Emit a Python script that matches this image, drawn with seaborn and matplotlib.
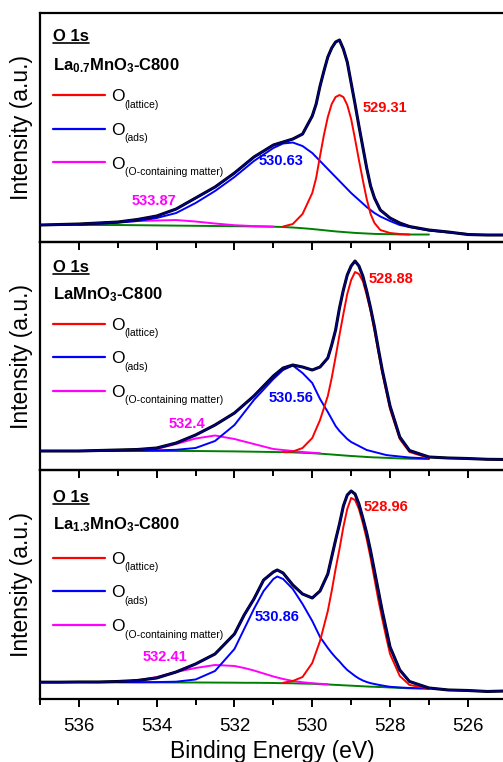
import numpy as np
import pandas as pd
import matplotlib
matplotlib.use("Agg")
import matplotlib.pyplot as plt
import seaborn as sns
from matplotlib.lines import Line2D
from matplotlib.ticker import MultipleLocator

nan = np.nan

# ---- panel 1: La0.7MnO3-C800 (binding energy in eV, intensity in a.u.) ----
e_p1 = [537.0, 536.5, 536.0, 535.5, 535.0, 534.5, 534.0, 533.5, 533.0, 532.5,
        532.0, 531.5, 531.0, 530.75, 530.5, 530.25, 530.0, 529.9, 529.8, 529.7,
        529.6, 529.5, 529.4, 529.3, 529.2, 529.1, 529.0, 528.9, 528.8, 528.7,
        528.6, 528.5, 528.4, 528.25, 528.0, 527.75, 527.5, 527.0, 526.5, 526.0,
        525.5, 525.0]
env_p1 = [17, 17.5, 18, 19, 20, 22.5, 26, 33, 44, 55,
          69, 85, 97, 100, 103, 108, 126, 138, 156, 171,
          185, 194, 200, 202, 193, 180, 159, 138, 116, 95,
          74, 56, 44, 32, 24, 19, 15.5, 12, 10, 7.5,
          7, 7]
bg_p1 = [17, 17, 17, 17, 17, 16.8, 16.6, 16.4, 16.2, 16,
         15.8, 15.6, 15.3, 15, 14.5, 13.8, 13, 12.6, 12.2, 11.8,
         11.4, 11, 10.6, 10.3, 10, 9.7, 9.4, 9.1, 8.9, 8.7,
         8.5, 8.3, 8.1, 8, 7.8, 7.6, 7.5, 7.5, nan, nan,
         nan, nan]
red_p1 = [nan, nan, nan, nan, nan, nan, nan, nan, nan, nan,
          nan, nan, nan, 15.5, 18, 28, 49, 64, 86, 107,
          125, 138, 145, 147, 145, 137, 123, 103, 82, 62,
          43, 28, 19, 12, 9, 8, 7.5, nan, nan, nan,
          nan, nan]
blue_p1 = [nan, nan, 17.3, 18.3, 19.3, 21, 24, 29, 39, 51,
           65, 81, 94, 98.5, 99.5, 96, 89, 85, 81, 77,
           73, 69, 65, 61, 57, 53, 49, 45.5, 42, 38.5,
           35, 32, 29, 25.5, 21, 17, 15, 11.5, 9.5, 8,
           nan, nan]
mag_p1 = [nan, 17.3, 17.8, 18.8, 20, 21, 21.5, 22, 20.5, 18.5,
          16.8, 15.9, 15.4, nan, nan, nan, nan, nan, nan, nan,
          nan, nan, nan, nan, nan, nan, nan, nan, nan, nan,
          nan, nan, nan, nan, nan, nan, nan, nan, nan, nan,
          nan, nan]

# ---- panel 2: LaMnO3-C800 ----
e_p2 = [537.0, 536.5, 536.0, 535.5, 535.0, 534.5, 534.0, 533.5, 533.0, 532.5,
        532.0, 531.5, 531.0, 530.75, 530.5, 530.25, 530.0, 529.8, 529.6, 529.5,
        529.4, 529.3, 529.2, 529.1, 529.0, 528.9, 528.8, 528.7, 528.6, 528.5,
        528.4, 528.3, 528.2, 528.1, 528.0, 527.75, 527.5, 527.0, 526.5, 526.0,
        525.5, 525.0]
env_p2 = [19, 19, 19, 19.5, 20, 20.5, 22, 27, 35, 45,
          57, 74, 94, 102, 105, 103, 100, 103, 112, 125,
          140, 162, 180, 195, 204, 209, 204, 194, 179, 162,
          143, 121, 100, 82, 64, 33, 19.5, 13, 12, 11.5,
          10.7, 10.5]
bg_p2 = [19, 19, 19, 19, 19, 19, 19, 19, 19, 18.8,
         18.6, 18.3, 18, 17.8, 17.6, 17.2, 16.8, 16.3, 15.8, 15.5,
         15.2, 14.9, 14.6, 14.3, 14, 13.8, 13.5, 13.3, 13, 12.8,
         12.6, 12.5, 12.3, 12.2, 12, 11.6, 11.3, 11, nan, nan,
         nan, nan]
red_p2 = [nan, nan, nan, nan, nan, nan, nan, nan, nan, nan,
          nan, nan, nan, 18, 18.5, 22, 32, 50, 74, 92,
          113, 135, 156, 176, 190, 198, 196, 189, 175, 159,
          139, 118, 97, 79, 61, 31, 18, 12, nan, nan,
          nan, nan]
blue_p2 = [nan, nan, 19.1, 19.2, 19.4, 19.5, 19.7, 20.2, 22, 29,
           45, 70, 91, 100, 104.5, 97, 87, 71, 58, 51,
           44, 39, 35, 31, 28, 26, 24, 22, 20, 19,
           18, 17, 16, 15, 14.5, 13.5, 12.5, 11.5, nan, nan,
           nan, nan]
mag_p2 = [nan, nan, nan, nan, 19.2, 19.6, 21, 26, 31.5, 34.5,
          31, 26, 21, 20, 19, 18, 17.3, 16.8, nan, nan,
          nan, nan, nan, nan, nan, nan, nan, nan, nan, nan,
          nan, nan, nan, nan, nan, nan, nan, nan, nan, nan,
          nan, nan]

# ---- panel 3: La1.3MnO3-C800 ----
e_p3 = [537.0, 536.5, 536.0, 535.5, 535.0, 534.5, 534.0, 533.5, 533.0, 532.5,
        532.0, 531.75, 531.5, 531.25, 531.0, 530.9, 530.75, 530.5, 530.25, 530.0,
        529.8, 529.6, 529.5, 529.4, 529.3, 529.2, 529.1, 529.0, 528.9, 528.8,
        528.7, 528.6, 528.5, 528.4, 528.3, 528.2, 528.1, 528.0, 527.75, 527.5,
        527.0, 526.5, 526.0, 525.5, 525.0]
env_p3 = [16.8, 16.8, 17, 17, 17.5, 18.5, 21, 27, 35, 45,
          65, 84, 100, 119, 127, 129, 126, 114, 105, 101,
          108, 125, 142, 159, 175, 193, 204, 208, 205, 195,
          181, 166, 148, 128, 108, 88, 70, 52, 29, 17.5,
          11, 9, 8.5, 7.5, 8]
bg_p3 = [16.8, 16.8, 16.8, 16.7, 16.7, 16.6, 16.6, 16.5, 16.5, 16.4,
         16.3, 16.2, 16.2, 16.1, 16, 15.9, 15.8, 15.7, 15.4, 15.2,
         14.8, 14.5, 14.3, 14.1, 13.9, 13.7, 13.5, 13.3, 13.1, 12.9,
         12.7, 12.5, 12.3, 12.2, 12, 11.9, 11.7, 11.5, 11.1, 10.7,
         10.3, nan, nan, nan, nan]
red_p3 = [nan, nan, nan, nan, nan, nan, nan, nan, nan, nan,
          nan, nan, nan, nan, nan, nan, 16.2, 18, 22, 36,
          58, 88, 108, 130, 150, 172, 190, 201, 199, 190,
          176, 160, 141, 120, 99, 80, 62, 45, 23, 14,
          10.5, nan, nan, nan, nan]
blue_p3 = [nan, nan, nan, nan, 16.8, 16.8, 16.9, 17.3, 19.5, 28,
           50, 70, 90, 108, 120, 122.5, 120, 110, 95, 78,
           62, 51, 46, 41.5, 37.5, 33, 29, 26, 23, 20.5,
           18.5, 17, 15.8, 15, 14.2, 13.5, 12.8, 12.2, 11.5, 11,
           10.5, nan, nan, nan, nan]
mag_p3 = [nan, nan, nan, nan, 17, 18.5, 22, 27, 31, 34,
          33, 31, 28.5, 25.5, 22.5, 21.5, 20, 18, 16.7, 15.8,
          15.2, 14.7, nan, nan, nan, nan, nan, nan, nan, nan,
          nan, nan, nan, nan, nan, nan, nan, nan, nan, nan,
          nan, nan, nan, nan, nan]

samples = [r"La$_{\mathbf{0.7}}$MnO$_{\mathbf{3}}$-C800",
           r"LaMnO$_{\mathbf{3}}$-C800",
           r"La$_{\mathbf{1.3}}$MnO$_{\mathbf{3}}$-C800"]
peaks_p1 = ["529.31", "530.63", "533.87"]
peaks_p2 = ["528.88", "530.56", "532.4"]
peaks_p3 = ["528.96", "530.86", "532.41"]
legend_subs = ["(lattice)", "(ads)", "(O-containing matter)"]

# text placement (data coords: left edge E, centre intensity)
peak_pos = [[(528.70, 134), (531.38, 81), (534.65, 41)],
            [(528.55, 191), (531.12, 72.5), (533.70, 46)],
            [(528.68, 191.5), (531.48, 81.5), (534.35, 41.5)]]

RED, BLUE, MAGENTA, GREEN, NAVY = "#ff0000", "#0000ff", "#ff00ff", "#008000", "#000080"

sns.set_theme(style="ticks")
plt.rcParams["font.family"] = ["Liberation Sans", "DejaVu Sans"]
plt.rcParams["mathtext.fontset"] = "custom"
plt.rcParams["mathtext.rm"] = "Liberation Sans"
plt.rcParams["mathtext.bf"] = "Liberation Sans:bold"
plt.rcParams["mathtext.it"] = "Liberation Sans:italic"
plt.rcParams["text.color"] = "black"
plt.rcParams["axes.labelcolor"] = "black"
plt.rcParams["xtick.color"] = "black"


def draw_curve(ax, e, y, color, lw, z):
    df = pd.DataFrame({"E": e, "I": y}).dropna()
    sns.lineplot(data=df, x="E", y="I", ax=ax, color=color, linewidth=lw,
                 estimator=None, sort=False, zorder=z)


fig = plt.figure(figsize=(5.03, 7.62), dpi=100)
boxes = [(0.0795, 0.6824, 0.9225, 0.3005),
         (0.0795, 0.3832, 0.9225, 0.2992),
         (0.0795, 0.0827, 0.9225, 0.3005)]
ytops = [229, 228, 229]
header_y = [0.879, 0.870, 0.862]
sample_y = [0.751, 0.749, 0.741]
legend_y = [0.667, 0.668, 0.643]

panels = [(e_p1, env_p1, bg_p1, red_p1, blue_p1, mag_p1, peaks_p1),
          (e_p2, env_p2, bg_p2, red_p2, blue_p2, mag_p2, peaks_p2),
          (e_p3, env_p3, bg_p3, red_p3, blue_p3, mag_p3, peaks_p3)]

headers = []
legends = []
for i, (e, env, bg, red, blue, mag, peaks) in enumerate(panels):
    ax = fig.add_axes(boxes[i])
    ax.set_facecolor("none")

    draw_curve(ax, e, bg, GREEN, 1.4, 2)
    draw_curve(ax, e, mag, MAGENTA, 1.4, 3)
    draw_curve(ax, e, blue, BLUE, 1.4, 4)
    draw_curve(ax, e, red, RED, 1.4, 5)
    draw_curve(ax, e, env, "black", 2.2, 6)
    draw_curve(ax, e, env, NAVY, 1.3, 7)

    ax.set_xlim(537, 525.07)
    ax.set_ylim(0, ytops[i])
    ax.set_yticks([])
    ax.xaxis.set_major_locator(MultipleLocator(2))
    ax.xaxis.set_minor_locator(MultipleLocator(1))
    ax.tick_params(axis="x", which="major", direction="out", length=5.5,
                   width=1.4, labelsize=13.5, pad=8.5, colors="black")
    ax.tick_params(axis="x", which="minor", direction="out", length=4,
                   width=1.4, colors="black")
    for sp in ax.spines.values():
        sp.set_linewidth(1.6)
        sp.set_color("black")
    ax.set_ylabel("Intensity (a.u.)", fontsize=16.5, labelpad=5)
    if i < 2:
        ax.tick_params(axis="x", labelbottom=False)
        ax.set_xlabel("")
    else:
        ax.set_xlabel("Binding Energy (eV)", fontsize=16.5, labelpad=3.5)

    t = ax.text(0.028, header_y[i], "O 1s", transform=ax.transAxes,
                fontsize=12, fontweight="bold", ha="left", va="baseline")
    headers.append((ax, t))
    ax.text(0.028, sample_y[i], samples[i], transform=ax.transAxes,
            fontsize=12, fontweight="bold", ha="left", va="baseline")

    for label, (px, py), col in zip(peaks, peak_pos[i], [RED, BLUE, MAGENTA]):
        ax.text(px, py, label, color=col, fontsize=10.5, fontweight="bold",
                ha="left", va="center", zorder=8)

    handles = [Line2D([], [], color=c, lw=1.6) for c in [RED, BLUE, MAGENTA]]
    leg = ax.legend(handles, ["O", "O", "O"], loc="upper left",
                    bbox_to_anchor=(0.027, legend_y[i]), frameon=False,
                    fontsize=12.5, handlelength=3.05, handletextpad=0.3,
                    labelspacing=1.06, borderaxespad=0, borderpad=0)
    legends.append((ax, leg))

fig.canvas.draw()
renderer = fig.canvas.get_renderer()

# underline the "O 1s" headers
for ax, t in headers:
    bb = t.get_window_extent(renderer).transformed(ax.transAxes.inverted())
    ax.plot([bb.x0, bb.x1], [bb.y0 + 0.004, bb.y0 + 0.004], color="black",
            lw=1.2, transform=ax.transAxes, clip_on=False)

# small subscripts after each legend "O"
for ax, leg in legends:
    for t, sub in zip(leg.get_texts(), legend_subs):
        bb = t.get_window_extent(renderer)
        _, _, d = renderer.get_text_width_height_descent(
            "lp", t.get_fontproperties(), ismath=False)
        base = bb.y0 + d
        x, y = ax.transAxes.inverted().transform((bb.x1 + 0.5, base - 6.5))
        ax.text(x, y, sub, transform=ax.transAxes, fontsize=7.5,
                ha="left", va="baseline")

fig.savefig("out.png", dpi=100)
